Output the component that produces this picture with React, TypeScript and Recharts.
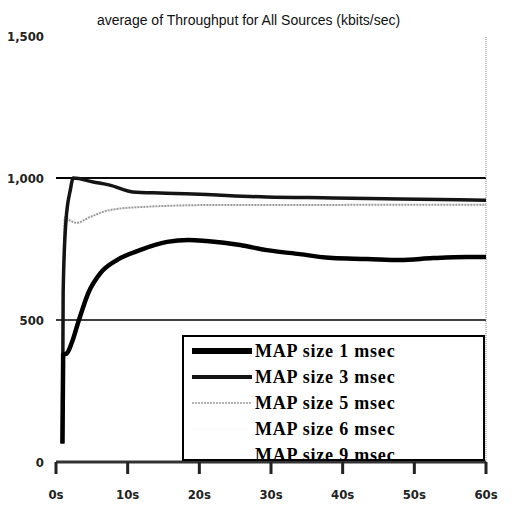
import React from "react";
import { LineChart, Line, XAxis, YAxis, ReferenceLine } from "recharts";

const xTicks = [0, 10, 20, 30, 40, 50, 60];
const yTicks = [0, 500, 1000, 1500];
const gridValues = [500, 1000];

// MAP size 1 msec
const map1Time = [0.9, 1.0, 1.5, 2.2, 3.2, 4.5, 6.2, 8.5, 11.7, 15.5, 18.5, 21, 25.7, 29.4, 34, 38.6, 43.4, 48, 52.6, 57.3, 60];
const map1Kbps = [65, 378, 382, 420, 500, 595, 665, 711, 746, 775, 782, 778, 764, 746, 732, 718, 715, 711, 718, 722, 722];

// MAP size 3 msec
const map3Time = [0.9, 1.0, 1.4, 2.0, 2.4, 5.2, 7.5, 10.7, 14.5, 19.1, 22.5, 29.4, 38.6, 48, 60];
const map3Kbps = [65, 600, 852, 958, 1000, 986, 975, 951, 947, 944, 940, 933, 930, 926, 922];

// MAP size 5 msec
const map5Time = [0.9, 1.0, 1.25, 2.0, 2.9, 4.7, 7.5, 12, 22.5, 35, 48, 60];
const map5Kbps = [65, 600, 862, 850, 842, 862, 887, 898, 905, 905, 906, 906];

// MAP size 6 / 9 msec (practically invisible in the original)
const map6Time = [0.9, 1.0, 1.4, 2.4, 60];
const map6Kbps = [65, 600, 852, 1000, 1000];
const map9Time = [0.9, 1.0, 1.4, 2.4, 60];
const map9Kbps = [65, 600, 852, 1000, 1000];

const toPoints = (ts: number[], vs: number[]) => ts.map((t, i) => ({ t, v: vs[i] }));

const series = [
  { name: "MAP size 1 msec", data: toPoints(map1Time, map1Kbps), color: "#000000", opacity: 1, width: 4.5, sample: 6, dash: undefined },
  { name: "MAP size 3 msec", data: toPoints(map3Time, map3Kbps), color: "#141414", opacity: 1, width: 3.5, sample: 4, dash: undefined },
  { name: "MAP size 5 msec", data: toPoints(map5Time, map5Kbps), color: "#9a9a9a", opacity: 1, width: 2, sample: 1.5, dash: "2 1" },
  { name: "MAP size 6 msec", data: toPoints(map6Time, map6Kbps), color: "#cccccc", opacity: 0.08, width: 1, sample: 1, dash: undefined },
  { name: "MAP size 9 msec", data: toPoints(map9Time, map9Kbps), color: "#cccccc", opacity: 0.05, width: 1, sample: 1, dash: undefined },
];

const tickFont = {
  fontSize: 13,
  fontWeight: 700,
  fill: "#222",
  fontFamily: '"Liberation Sans Narrow", "DejaVu Sans Condensed", sans-serif',
};

const TICK_SIZE = 12;
const TICK_MARGIN = 16;

// x tick: a filled mark hanging below the axis plus its label
const XTick = (props: any) => {
  const { x, y, payload } = props;
  const axisY = y - TICK_SIZE - TICK_MARGIN;
  return (
    <g>
      <rect x={x - 1.5} y={axisY} width={3} height={TICK_SIZE} fill="#222" />
      <text x={x} y={y} dy="0.71em" textAnchor="middle" {...tickFont}>
        {`${payload.value}s`}
      </text>
    </g>
  );
};

const LegendBox = () => (
  <div
    style={{
      position: "absolute",
      left: 182,
      top: 335,
      width: 303,
      height: 126,
      boxSizing: "border-box",
      border: "2px solid #000",
      background: "#fff",
      paddingTop: 1,
    }}
  >
    {series.map((s) => (
      <div key={s.name} style={{ display: "flex", alignItems: "center", height: 26 }}>
        <svg width={60} height={10} style={{ marginLeft: 8, flex: "none" }}>
          <line
            x1={0}
            x2={60}
            y1={5}
            y2={5}
            stroke={s.color}
            strokeOpacity={s.opacity}
            strokeWidth={s.sample}
            strokeDasharray={s.dash}
          />
        </svg>
        <span
          style={{
            marginLeft: 3,
            fontFamily: '"Liberation Serif", "Times New Roman", serif',
            fontWeight: 700,
            fontSize: 18,
            letterSpacing: 0.8,
            color: "#000",
            lineHeight: "26px",
          }}
        >
          {s.name}
        </span>
      </div>
    ))}
  </div>
);

export default function App() {
  return (
    <div style={{ position: "absolute", left: 0, top: 0, width: 515, height: 506, background: "#fff" }}>
      <LineChart width={515} height={506} margin={{ top: 36, right: 29, bottom: 0, left: 0 }}>
        <XAxis
          type="number"
          dataKey="t"
          domain={[0, 60]}
          ticks={xTicks}
          height={44}
          tickSize={TICK_SIZE}
          tickMargin={TICK_MARGIN}
          axisLine={{ stroke: "#333", strokeWidth: 3 }}
          tickLine={false}
          tick={<XTick />}
        />
        <YAxis
          type="number"
          dataKey="v"
          domain={[0, 1500]}
          ticks={yTicks}
          tickFormatter={(v) => v.toLocaleString("en-US")}
          width={56}
          axisLine={false}
          tickLine={false}
          tickSize={6}
          tickMargin={6}
          tick={tickFont}
        />
        {gridValues.map((g) => (
          <ReferenceLine key={g} y={g} stroke="#000" strokeWidth={g === 1000 ? 2 : 1.5} />
        ))}
        <ReferenceLine x={60} stroke="#888" strokeDasharray="1 1" />
        {[...series].reverse().map((s) => (
          <Line
            key={s.name}
            name={s.name}
            data={s.data}
            dataKey="v"
            type="monotone"
            stroke={s.color}
            strokeOpacity={s.opacity}
            strokeWidth={s.width}
            strokeDasharray={s.dash}
            dot={false}
            activeDot={false}
            isAnimationActive={false}
          />
        ))}
      </LineChart>
      <LegendBox />
      <div
        style={{
          position: "absolute",
          left: 0,
          top: 12,
          width: 497,
          textAlign: "center",
          fontFamily: '"Liberation Sans", Arial, sans-serif',
          fontSize: 14,
          color: "#111",
        }}
      >
        average of Throughput for All Sources (kbits/sec)
      </div>
    </div>
  );
}
